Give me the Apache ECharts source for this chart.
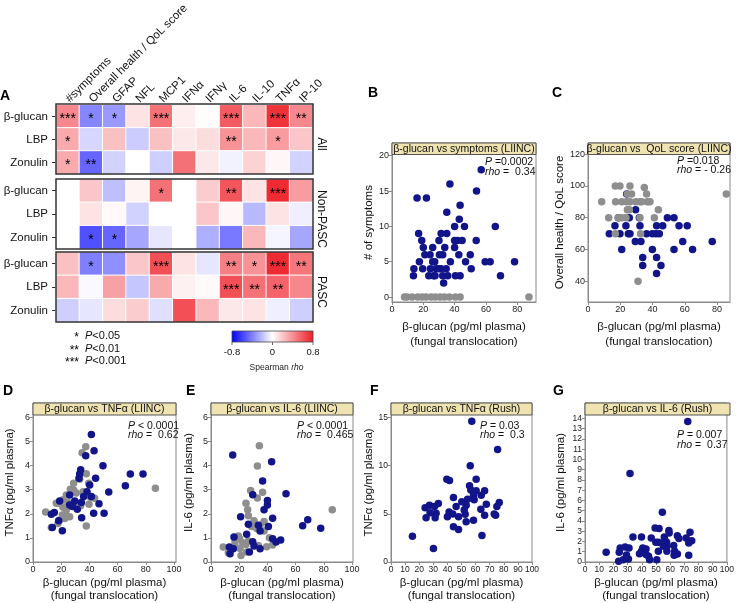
<!DOCTYPE html>
<html><head><meta charset="utf-8">
<script src="https://cdn.jsdelivr.net/npm/echarts@6/dist/echarts.min.js"></script>
<style>html,body{margin:0;padding:0;background:#fff}#c{width:737px;height:603px}</style>
</head><body><div id="c"></div>
<script>
// ---------------- DATA ----------------
const heatCols = ['#symptoms','Overall health / QoL score','GFAP','NFL','MCP1','IFNα','IFNγ','IL-6','IL-10','TNFα','IP-10'];
const heatRows = ['β-glucan','LBP','Zonulin'];
const groupNames = ['All','Non-PASC','PASC'];

const rhoAll = [
  [0.42,-0.38,-0.32,0.10,0.50,0.06,0.01,0.58,0.25,0.72,0.42],
  [0.30,-0.13,0.22,-0.16,0.22,0.08,0.12,0.38,0.25,0.35,0.20],
  [0.30,-0.48,-0.14,0.00,-0.15,0.50,0.08,-0.04,0.16,0.03,-0.14]
];
const starsAll = [
  ['***','*','*','','***','','','***','','***','**'],
  ['*','','','','','','','**','','*',''],
  ['*','**','','','','','','','','','']
];
const rhoNonPasc = [
  [null,0.20,-0.20,0.04,0.50,0.00,0.18,0.60,0.10,0.75,0.35],
  [null,0.10,0.02,-0.14,0.00,0.00,0.20,0.03,-0.22,0.10,-0.05],
  [null,-0.55,-0.48,-0.28,-0.08,0.00,-0.25,-0.42,0.25,-0.03,-0.28]
];
const starsNonPasc = [
  ['','','','','*','','','**','','***',''],
  ['','','','','','','','','','',''],
  ['','*','*','','','','','','','','']
];
const rhoPasc = [
  [0.22,-0.40,-0.35,0.20,0.62,0.10,-0.08,0.45,0.38,0.75,0.48],
  [0.25,-0.02,0.33,-0.18,0.30,0.05,0.02,0.62,0.50,0.55,0.42],
  [-0.15,-0.08,0.12,0.18,-0.10,0.62,0.25,0.08,0.10,-0.05,-0.15]
];
const starsPasc = [
  ['','*','','','***','','','**','*','***','**'],
  ['','','','','','','','***','**','**',''],
  ['','','','','','','','','','','']
];
const colorbarTicks = ['-0.8','0','0.8'];

// B: symptoms (LIINC)
const symptomsPasc = [[16,14],[22,14],[37,16],[54,15],[57,18],[35,12],[43.5,13],[43,11],[40,10],[46.3,10],[66,10],[17,9],[31.4,9],[35,9],[19,8],[30,8],[40,8],[41.8,8],[44.8,8],[53.8,8],[20,7],[26,7],[33.7,7],[40,7],[21,6],[24.3,6],[30.3,6],[32.4,6],[42.7,6],[50,6],[17.5,5],[26,5],[27.3,5],[37.3,5],[47,5],[59.5,5],[62.7,5],[78.3,5],[14,4],[19.6,4],[24.5,4],[28.2,4],[30,4],[31.4,4],[34.6,4],[50.6,4],[13.7,3],[23.5,3],[26.5,3],[27.5,3],[32.4,3],[35.6,3],[40.5,3],[43.5,3],[69.3,3],[33,2]];
const symptomsNonPasc = [[8,0],[9.5,0],[12.8,0],[16.4,0],[19.2,0],[21.8,0],[25,0],[27.7,0],[30.7,0],[33.5,0],[36.7,0],[40.5,0],[43.5,0],[87.5,0]];
// C: QoL (LIINC)
const qolPasc = [[24,95],[29.5,85],[18.8,80],[25.6,80],[31.8,80],[49.2,80],[53.3,80],[16.7,75],[23.5,75],[32.2,75],[42.5,75],[46.3,75],[56.4,75],[61.5,75],[13.2,70],[19.8,70],[25,70],[26,70],[36.3,70],[39.9,70],[42.1,70],[44.2,70],[29.3,65],[32.8,65],[58.7,65],[77,65],[20.9,60],[39.9,60],[53.3,60],[64.8,60],[33.9,55],[42.5,55],[33.9,50],[45.2,50],[42.5,45]];
const qolNonPasc = [[8.5,90],[16.9,100],[19.8,100],[26,100],[34.9,99],[17.1,90],[20.9,90],[24.4,95],[27,95],[36.3,95],[23.9,90],[26,90],[29.7,90],[32.2,90],[33.3,90],[36.8,90],[38.4,90],[24.4,85],[25.6,85],[43.6,85],[12.8,80],[18.8,80],[20.9,80],[23.5,80],[32.2,80],[41.1,80],[16.9,70],[32.6,70],[85.7,95],[31,40]];
// D: TNFa (LIINC)
const tnfLiincPasc = [[41.4,5.29],[43.3,4.62],[37.4,4.41],[49.6,4.0],[33.8,3.83],[69,3.65],[78,3.65],[33.1,3.65],[44.4,3.48],[32.6,3.48],[40.2,3.2],[65.5,3.16],[38.3,2.92],[53.7,2.91],[26,2.78],[35.9,2.72],[41.4,2.72],[29.6,2.53],[34.3,2.47],[46.8,2.42],[18.9,2.53],[26,2.37],[27.9,2.3],[31.4,2.19],[15.1,2.05],[13,1.98],[43,2.02],[50.4,2.02],[34.5,1.84],[18.2,1.71],[20.8,1.3],[13.7,1.43]];
const tnfLiincNonPasc = [[37.4,4.78],[34.8,4.53],[37.8,3.66],[39.5,3.27],[28.8,3.27],[26.5,3.02],[35.5,2.92],[30.7,2.86],[40.7,2.69],[43.7,2.65],[23.6,2.78],[21.3,2.58],[18.9,2.44],[16.5,2.44],[24.8,2.47],[21.3,2.27],[33.8,2.33],[39.7,2.4],[9,2.08],[23.6,2.16],[20.8,1.95],[26,1.88],[22.5,1.81],[18.9,1.74],[17.7,1.6],[13,1.43],[37.8,1.49],[86.8,3.06],[33.1,3.44],[28.8,2.99],[24,1.9],[29,2.3]];
// E: IL-6 (LIINC)
const il6LiincPasc = [[15.4,4.44],[43,4.16],[36.6,3.36],[53.2,2.83],[29.6,2.79],[40,2.55],[40,2.37],[37.6,2.17],[43.7,1.82],[21,1.88],[68.6,1.75],[65,1.5],[77.8,1.4],[33.6,1.53],[26.5,1.57],[40.7,1.47],[25.3,1.15],[34.8,1.29],[16.3,1.04],[43.7,0.97],[49.4,0.91],[46.1,0.83],[29.6,0.84],[13,0.62],[15.8,0.55],[30.5,0.66],[34.8,0.55],[27.2,0.42],[13.5,0.34]];
const il6LiincNonPasc = [[34.3,4.83],[32.9,3.98],[28.1,2.97],[36.6,2.9],[32.9,2.66],[24.8,2.44],[26,2.17],[26.5,1.92],[86,2.17],[30.5,1.71],[37.6,1.68],[28.8,1.47],[34.8,1.53],[37.6,1.29],[32.4,1.39],[41.4,1.01],[19.4,1.08],[20.3,0.97],[17,0.83],[22.5,0.8],[26.5,0.87],[8.7,0.62],[17,0.66],[20.6,0.56],[24.8,0.73],[33.6,0.69],[39.5,0.63],[43.7,0.71],[12.3,0.38],[21.3,0.27],[25.3,0.42]];
// F: TNFa (Rush)
const tnfRush = [[57.3,14.6],[75.6,11.67],[56.2,10],[39.6,8.6],[41.5,8.47],[60.4,8.6],[55.7,7.9],[56.6,7.46],[60.4,7.39],[66.4,7.39],[58.5,6.93],[64,6.93],[44.3,6.69],[59,6.45],[54.3,6.52],[50.2,6.24],[76.8,6.17],[33.6,6.06],[27.3,5.89],[67.6,5.99],[53.3,5.89],[24.2,5.64],[30.8,5.75],[46.2,5.75],[75.1,5.75],[51.9,5.4],[63.7,5.47],[41.2,5.19],[27.7,5.12],[32,5.05],[52.6,4.95],[73.2,4.98],[43.8,4.98],[66.4,4.84],[74.2,4.84],[24.9,4.6],[31.3,4.6],[40,4.7],[47.9,4.7],[53.3,4.18],[58.5,4.32],[44.3,3.66],[47.9,3.38],[64.5,2.75],[15.2,2.68],[30.1,1.39]];
// G: IL-6 (Rush)
const il6Rush = [[72.4,13.7],[31.7,8.63],[54.5,4.85],[49.4,3.32],[52.2,3.26],[59.1,3.06],[59.3,2.83],[74,2.9],[33.8,2.44],[39.8,2.44],[46.7,2.35],[55.9,2.44],[65.1,2.57],[66.2,2.28],[71.3,2.35],[75.2,2.08],[56.3,2.08],[49.9,1.92],[51.7,1.92],[57.5,1.92],[73.1,1.86],[28.3,1.47],[24.8,1.37],[31,1.37],[40.7,1.37],[43,1.27],[55.2,1.53],[57.5,1.47],[62.5,1.6],[39.8,1.04],[51.7,1.04],[57.7,1.04],[63.2,1.04],[65.1,0.78],[14.9,0.94],[24.1,0.94],[38.4,0.81],[29.2,0.68],[43,0.72],[44.8,0.55],[62.8,0.65],[73.1,0.65],[30.6,0.29],[26.9,0.23],[23.7,0.07],[45.5,0.23],[50.6,0.23]];

const ticksX20 = [0,20,40,60,80];
const ticksX20to100 = [0,20,40,60,80,100];
const ticksX10 = [0,10,20,30,40,50,60,70,80,90,100];
const ticksSymptoms = [0,5,10,15,20];
const ticksQol = [40,60,80,100,120];
const ticksPg6 = [0,1,2,3,4,5,6];
const ticksTnfRush = [0,5,10,15];
const ticksIl6Rush = [0,1,2,3,4,5,6,7,8,9,10,11,12,13,14];

// ---------------- LAYOUT / STYLE ----------------
const FONT = 'Liberation Sans, Arial, sans-serif';
const BLUE = '#12158a', GRAY = '#8e8e8e';
const HEAT = {left:56, width:257, height:70, tops:[104,179,252]};
const rhoGroups = [rhoAll, rhoNonPasc, rhoPasc];
const starGroups = [starsAll, starsNonPasc, starsPasc];

const grids = [], xAxes = [], yAxes = [], series = [], graphics = [];

// heatmap grids
HEAT.tops.forEach((top, g) => {
  grids.push({left:HEAT.left, top:top, width:HEAT.width, height:HEAT.height});
  xAxes.push({type:'category', gridIndex:g, data:heatCols, position:'top', show:true,
    axisLine:{show:false}, axisTick:{show:false},
    axisLabel:{show:g===0, rotate:-45, interval:0, margin:4, fontSize:11.5, color:'#111', fontFamily:FONT},
    splitLine:{show:false}});
  yAxes.push({type:'category', gridIndex:g, data:heatRows, inverse:true, position:'left',
    axisLine:{show:false}, axisTick:{show:true, inside:false, length:4, alignWithLabel:true, lineStyle:{color:'#333'}},
    axisLabel:{margin:8, fontSize:11.5, color:'#111', fontFamily:FONT}, splitLine:{show:false}});
  const data = [];
  rhoGroups[g].forEach((row, r) => row.forEach((v, c) => {
    if (v === null) data.push([c, r, '-', '']);
    else data.push([c, r, v, starGroups[g][r][c]]);
  }));
  series.push({type:'heatmap', xAxisIndex:g, yAxisIndex:g, data:data,
    itemStyle:{borderColor:'#fff', borderWidth:1},
    label:{show:true, formatter:p => p.value[3] || '', fontSize:14, offset:[0,3], color:'#000', fontFamily:FONT}});
  graphics.push({type:'rect', z:100, shape:{x:HEAT.left, y:top, width:HEAT.width, height:HEAT.height},
    style:{fill:'none', stroke:'#333', lineWidth:1.5}});
  graphics.push({type:'text', z:100, x:HEAT.left+HEAT.width+8, y:top+HEAT.height/2+5, rotation:-Math.PI/2,
    style:{text:groupNames[g], fontSize:12, fontFamily:FONT, fill:'#111', textAlign:'center', textVerticalAlign:'middle'}});
});

// scatter panels
const panels = [
  {letter:'B', lx:368, ly:93, grid:{left:392, top:143, width:144, height:159}, x:[0,92], y:[-0.7,21.8],
   xt:ticksX20, yt:ticksSymptoms, yName:'# of symptoms', yGap:12, xGap:17, lh:15, fs:9,
   banner:'β-glucan vs symptoms (LIINC)', bh:11.5, stat:['{i|P} =0.0002','{i|rho} =  0.34'], sx:485, sy:162, sdy:10,
   sets:[[symptomsNonPasc,GRAY],[symptomsPasc,BLUE]]},
  {letter:'C', lx:552, ly:93, grid:{left:588, top:143, width:142, height:159}, x:[0,88], y:[27,127],
   xt:ticksX20, yt:ticksQol, yName:'Overall health / QoL score', yGap:20, xGap:17, lh:15, fs:9,
   banner:'β-glucan vs  QoL score (LIINC)', bh:11.5, stat:['{i|P} =0.018','{i|rho} = - 0.26'], sx:677, sy:161, sdy:9.5,
   sets:[[qolPasc,BLUE],[qolNonPasc,GRAY]]},
  {letter:'D', lx:3, ly:391, grid:{left:33, top:403, width:143, height:159}, x:[0,101.4], y:[0,6.6],
   xt:ticksX20to100, yt:ticksPg6, yName:'TNFα (pg/ml plasma)', yGap:17, xGap:15, lh:12.5, fs:9,
   banner:'β-glucan vs TNFα (LIINC)', bh:12, stat:['{i|P} < 0.0001','{i|rho} =  0.62'], sx:128, sy:426, sdy:9.5,
   sets:[[tnfLiincNonPasc,GRAY],[tnfLiincPasc,BLUE]]},
  {letter:'E', lx:186, ly:391, grid:{left:211, top:403, width:142, height:159}, x:[0,100.7], y:[0,6.6],
   xt:ticksX20to100, yt:ticksPg6, yName:'IL-6 (pg/ml plasma)', yGap:16, xGap:15, lh:12.5, fs:9,
   banner:'β-glucan vs IL-6 (LIINC)', bh:12, stat:['{i|P} < 0.0001','{i|rho} =  0.465'], sx:297, sy:426, sdy:9.5,
   sets:[[il6LiincNonPasc,GRAY],[il6LiincPasc,BLUE]]},
  {letter:'F', lx:370, ly:391, grid:{left:391, top:403, width:141, height:159}, x:[0,100], y:[0,16.5],
   xt:ticksX10, yt:ticksTnfRush, yName:'TNFα (pg/ml plasma)', yGap:13, xGap:15, lh:12.5, fs:8.5,
   banner:'β-glucan vs TNFα (Rush)', bh:12, stat:['{i|P} = 0.03','{i|rho} =  0.3'], sx:480, sy:426, sdy:9.5,
   sets:[[tnfRush,BLUE]]},
  {letter:'G', lx:553, ly:391, grid:{left:585, top:403, width:145, height:159}, x:[0,100], y:[0,15.5],
   xt:ticksX10, yt:ticksIl6Rush, yName:'IL-6 (pg/ml plasma)', yGap:18, xGap:15, lh:12.5, fs:8.5,
   banner:'β-glucan vs IL-6 (Rush)', bh:12, stat:['{i|P} = 0.007','{i|rho} =  0.37'], sx:677, sy:435, sdy:10,
   sets:[[il6Rush,BLUE]]}
];
const AX = '#8a8a8a';
panels.forEach((p, k) => {
  const gi = grids.length;
  grids.push(Object.assign({show:true, borderColor:AX, borderWidth:1, backgroundColor:'transparent'}, p.grid));
  xAxes.push({type:'value', gridIndex:gi, min:p.x[0], max:p.x[1],
    axisLine:{show:true, onZero:false, lineStyle:{color:AX}},
    axisTick:{show:true, length:3, lineStyle:{color:AX}, customValues:p.xt},
    axisLabel:{fontSize:p.fs, color:'#222', margin:3, fontFamily:FONT, customValues:p.xt},
    splitLine:{show:false},
    name:'β-glucan (pg/ml plasma)\n(fungal translocation)', nameLocation:'middle', nameGap:p.xGap,
    nameTextStyle:{fontSize:11.5, color:'#111', fontFamily:FONT, lineHeight:p.lh, verticalAlign:'top'}});
  yAxes.push({type:'value', gridIndex:gi, min:p.y[0], max:p.y[1],
    axisLine:{show:true, onZero:false, lineStyle:{color:AX}},
    axisTick:{show:true, length:3, lineStyle:{color:AX}, customValues:p.yt},
    axisLabel:{fontSize:p.fs, color:'#222', margin:3, fontFamily:FONT, customValues:p.yt},
    splitLine:{show:false},
    name:p.yName, nameLocation:'middle', nameGap:p.yGap,
    nameTextStyle:{fontSize:11.5, color:'#111', fontFamily:FONT}});
  p.sets.forEach(([d, col]) => {
    series.push({type:'scatter', xAxisIndex:gi, yAxisIndex:gi, data:d, symbolSize:7.5,
      itemStyle:{color:col, opacity:1}, z:3});
  });
  const g = p.grid;
  graphics.push({type:'rect', z:50, shape:{x:g.left, y:g.top, width:g.width, height:p.bh},
    style:{fill:'#efe3b1', stroke:'#555', lineWidth:1}});
  graphics.push({type:'text', z:51, x:g.left+g.width/2, y:g.top+p.bh/2+0.5,
    style:{text:p.banner, fontSize:10.5, fontFamily:FONT, fill:'#111', textAlign:'center', textVerticalAlign:'middle'}});
  p.stat.forEach((s, j) => {
    graphics.push({type:'text', z:51, x:p.sx, y:p.sy + j*p.sdy,
      style:{text:s, fontSize:10.5, fontFamily:FONT, fill:'#111', textAlign:'left', textVerticalAlign:'middle',
        rich:{i:{fontStyle:'italic', fontSize:10.5, fontFamily:FONT, fill:'#111'}}}});
  });
  graphics.push({type:'text', z:51, x:p.lx, y:p.ly,
    style:{text:p.letter, fontSize:14, fontWeight:'bold', fontFamily:FONT, fill:'#000', textVerticalAlign:'middle'}});
});

// panel A letter
graphics.push({type:'text', x:0, y:96, style:{text:'A', fontSize:14, fontWeight:'bold', fontFamily:FONT, fill:'#000', textVerticalAlign:'middle'}});

// significance legend
['*','**','***'].forEach((s, i) => {
  const y = 336 + i*12.5;
  graphics.push({type:'text', x:79, y:y+2, style:{text:s, fontSize:12, fontFamily:FONT, fill:'#000', textAlign:'right', textVerticalAlign:'middle'}});
  graphics.push({type:'text', x:85, y:y, style:{text:'{i|P}<' + ['0.05','0.01','0.001'][i], fontSize:11, fontFamily:FONT, fill:'#111', textVerticalAlign:'middle',
    rich:{i:{fontStyle:'italic', fontSize:11, fontFamily:FONT, fill:'#111'}}}});
});

// colorbar
const CB = {x:232, y:331, w:81, h:11};
graphics.push({type:'rect', shape:{x:CB.x, y:CB.y, width:CB.w, height:CB.h},
  style:{fill:{type:'linear', x:0, y:0, x2:1, y2:0, colorStops:[{offset:0,color:'#0000ff'},{offset:0.5,color:'#ffffff'},{offset:1,color:'#ee1c25'}]},
  stroke:'#444', lineWidth:0.8}});
colorbarTicks.forEach((t, i) => {
  const x = CB.x + CB.w*i/2;
  graphics.push({type:'line', shape:{x1:x, y1:CB.y+CB.h, x2:x, y2:CB.y+CB.h+3}, style:{stroke:'#444', lineWidth:0.8}});
  graphics.push({type:'text', x:x, y:CB.y+CB.h+10, style:{text:t, fontSize:9.5, fontFamily:FONT, fill:'#111', textAlign:'center', textVerticalAlign:'middle'}});
});
graphics.push({type:'text', x:CB.x+CB.w/2+4, y:368, style:{text:'Spearman {i|rho}', fontSize:8.5, fontFamily:FONT, fill:'#222', textAlign:'center', textVerticalAlign:'middle',
  rich:{i:{fontStyle:'italic', fontSize:8.5, fontFamily:FONT, fill:'#222'}}}});

const chart = echarts.init(document.getElementById('c'), null, {renderer:'canvas'});
chart.setOption({
  animation:false,
  backgroundColor:'#fff',
  textStyle:{fontFamily:FONT},
  grid:grids, xAxis:xAxes, yAxis:yAxes, series:series,
  visualMap:{type:'continuous', show:false, min:-0.8, max:0.8, dimension:2, seriesIndex:[0,1,2],
    inRange:{color:['#0000ff','#ffffff','#ee1c25']}},
  graphic:graphics
});
</script></body></html>
